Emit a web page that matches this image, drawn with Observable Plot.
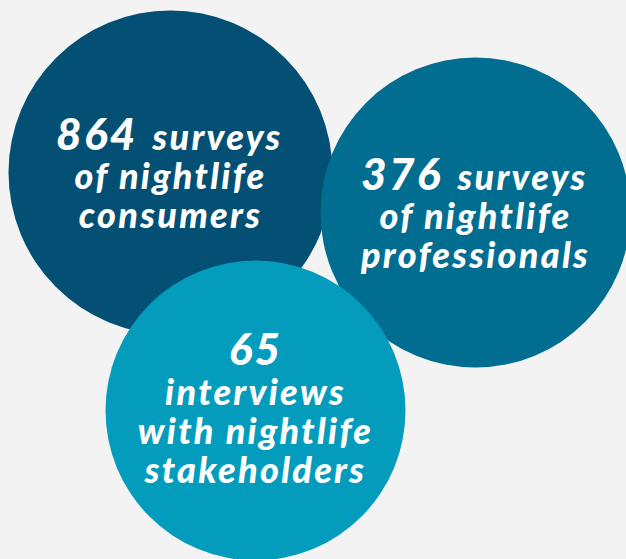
<!DOCTYPE html>
<html><head><meta charset="utf-8">
<script src="https://cdn.jsdelivr.net/npm/d3@7"></script>
<script src="https://cdn.jsdelivr.net/npm/@observablehq/plot@0.6"></script>
<style>html,body{margin:0;padding:0;background:#f3f3f3;overflow:hidden}</style>
</head><body><div id="chart"></div>
<script>
// values
const counts = [864, 376, 65];
const methods = ["surveys", "surveys", "interviews"];
const audiences = [["of nightlife", "consumers"], ["of nightlife", "professionals"], ["with nightlife", "stakeholders"]];
// styles / layout (pixel space)
const colors = ["#035074", "#016d91", "#039cbd"];
const layout = [{cx: 170, cy: 172, r: 162}, {cx: 475, cy: 212, r: 155}, {cx: 255, cy: 410, r: 150}];
const numSize = 44, wordSize = 36, lineGap = 39;

const circles = counts.map((c, i) => ({...layout[i], color: colors[i], count: c}));

const rows = [];
counts.forEach((c, i) => {
  const {cx, cy} = layout[i];
  if (i < 2) {
    const top = cy - 23;
    rows.push({x: cx - 33, y: top, text: String(c), size: numSize, anchor: "end"});
    rows.push({x: cx - 18, y: top, text: methods[i], size: wordSize, anchor: "start"});
    audiences[i].forEach((t, k) => rows.push({x: cx, y: top + lineGap * (k + 1), text: t, size: wordSize, anchor: "middle"}));
  } else {
    const top = cy - 46;
    rows.push({x: cx, y: top, text: String(c), size: numSize, anchor: "middle"});
    rows.push({x: cx, y: top + 40, text: methods[i], size: wordSize, anchor: "middle"});
    audiences[i].forEach((t, k) => rows.push({x: cx, y: top + 40 + lineGap * (k + 1), text: t, size: wordSize, anchor: "middle"}));
  }
});

const textOpts = (anchor) => ({
  x: "x", y: "y", text: "text", fontSize: "size",
  fill: "white", textAnchor: anchor, lineAnchor: "bottom",
  fontFamily: "Lato", fontWeight: 900, fontStyle: "italic"
});

const chart = Plot.plot({
  width: 626, height: 559, margin: 0,
  x: {domain: [0, 626], range: [0, 626], axis: null},
  y: {domain: [0, 559], range: [0, 559], axis: null},
  r: {type: "identity"},
  style: {background: "#f3f3f3", letterSpacing: "2.3px"},
  marks: [
    Plot.dot(circles, {x: "cx", y: "cy", r: "r", fill: "color", stroke: null}),
    Plot.text(rows.filter(d => d.anchor === "end"), textOpts("end")),
    Plot.text(rows.filter(d => d.anchor === "start"), textOpts("start")),
    Plot.text(rows.filter(d => d.anchor === "middle"), textOpts("middle"))
  ]
});
document.getElementById("chart").appendChild(chart);
</script></body></html>
